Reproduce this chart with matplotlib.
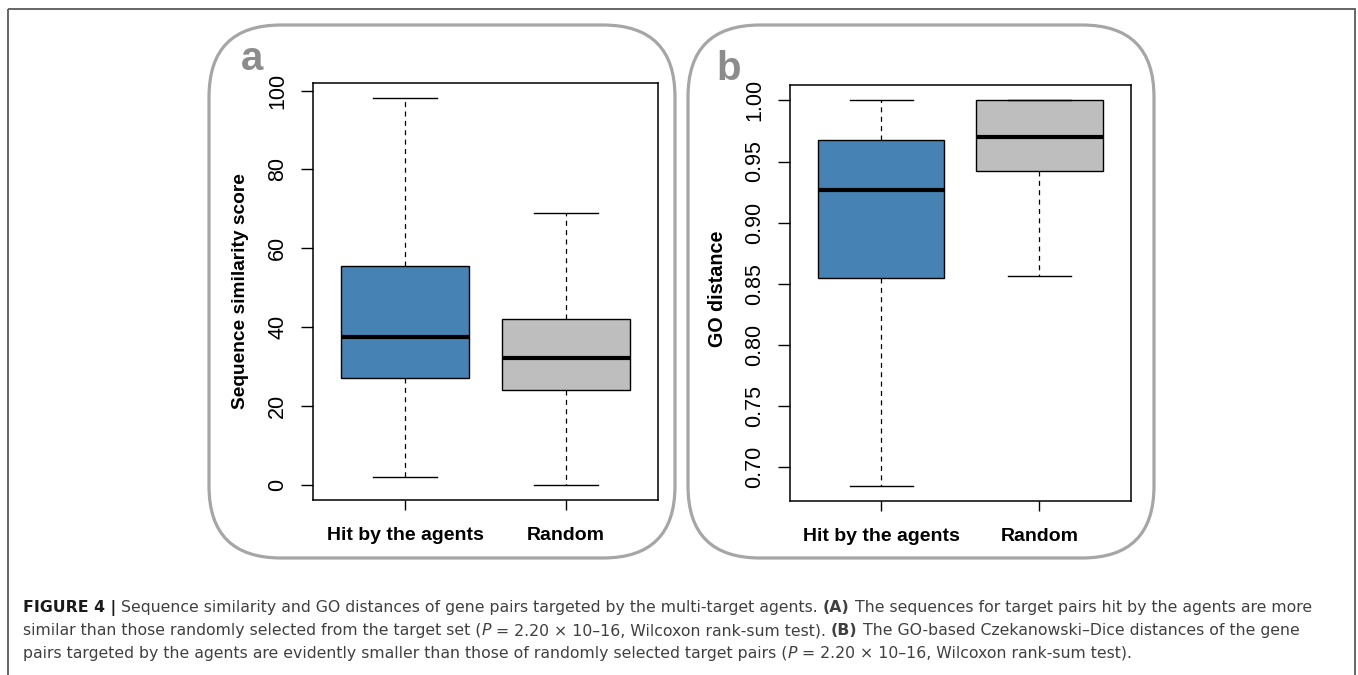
import matplotlib
matplotlib.use("Agg")
import matplotlib.pyplot as plt
from matplotlib.patches import FancyBboxPatch, Rectangle

# ---------------- data ----------------
categories = ["Hit by the agents", "Random"]
box_colors = ["#4682B4", "#BEBEBE"]

# panel a: sequence similarity score
seq_whislo = [2.0, 0.0]
seq_q1 = [27.0, 24.0]
seq_med = [37.5, 32.0]
seq_q3 = [55.5, 42.0]
seq_whishi = [98.0, 69.0]
seq_ticks = [0, 20, 40, 60, 80, 100]
seq_ticklabels = ["0", "20", "40", "60", "80", "100"]

# panel b: GO distance
go_whislo = [0.685, 0.856]
go_q1 = [0.855, 0.942]
go_med = [0.927, 0.970]
go_q3 = [0.968, 1.000]
go_whishi = [1.000, 1.000]
go_ticks = [0.70, 0.75, 0.80, 0.85, 0.90, 0.95, 1.00]
go_ticklabels = ["0.70", "0.75", "0.80", "0.85", "0.90", "0.95", "1.00"]

caption_lines = [
    [("FIGURE 4 |", "bold", "normal"),
     (" Sequence similarity and GO distances of gene pairs targeted by the multi-target agents. ", "normal", "normal"),
     ("(A)", "bold", "normal"),
     (" The sequences for target pairs hit by the agents are more", "normal", "normal")],
    [("similar than those randomly selected from the target set (", "normal", "normal"),
     ("P", "normal", "italic"),
     (" = 2.20 \u00d7 10\u201316, Wilcoxon rank-sum test). ", "normal", "normal"),
     ("(B)", "bold", "normal"),
     (" The GO-based Czekanowski\u2013Dice distances of the gene", "normal", "normal")],
    [("pairs targeted by the agents are evidently smaller than those of randomly selected target pairs (", "normal", "normal"),
     ("P", "normal", "italic"),
     (" = 2.20 \u00d7 10\u201316, Wilcoxon rank-sum test).", "normal", "normal")],
]

# ---------------- figure ----------------
W, H = 1358, 675
plt.rcParams["font.family"] = ["Liberation Sans", "DejaVu Sans"]
fig = plt.figure(figsize=(W / 100, H / 100), dpi=100)
fig.patch.set_facecolor("white")

# background overlay in pixel coordinates
bg = fig.add_axes([0, 0, 1, 1], zorder=0)
bg.set_xlim(0, W)
bg.set_ylim(H, 0)
bg.axis("off")
bg.add_patch(Rectangle((8, 9), 1347, 680, fill=False, edgecolor="#5a5a5a", linewidth=1.3))
for x0 in (209, 688):
    bg.add_patch(FancyBboxPatch((x0, 25), 466, 533,
                                boxstyle="round,pad=0,rounding_size=72",
                                fill=False, edgecolor="#a6a6a6", linewidth=2.3))
bg.text(252, 70, "a", fontsize=29, fontweight="bold", color="#8c8c8c", ha="center", va="baseline")
bg.text(729, 80, "b", fontsize=29, fontweight="bold", color="#8c8c8c", ha="center", va="baseline")


def make_stats(whislo, q1, med, q3, whishi):
    return [dict(whislo=whislo[i], q1=q1[i], med=med[i], q3=q3[i], whishi=whishi[i],
                 label=categories[i]) for i in range(len(categories))]


def draw_panel(rect, stats, ticks, ticklabels, ylabel, ylabel_size):
    ax = fig.add_axes(rect, zorder=1)
    ax.patch.set_alpha(0)
    bp = ax.bxp(stats, positions=[1, 2], widths=0.8, capwidths=0.4, patch_artist=True,
                showfliers=False,
                boxprops=dict(edgecolor="black", linewidth=1.0),
                whiskerprops=dict(color="black", linewidth=0.9, linestyle=(0, (4, 3.5))),
                capprops=dict(color="black", linewidth=1.0),
                medianprops=dict(color="black", linewidth=3.0))
    for patch, c in zip(bp["boxes"], box_colors):
        patch.set_facecolor(c)
    lo = min(s["whislo"] for s in stats)
    hi = max(s["whishi"] for s in stats)
    pad = 0.04 * (hi - lo)
    ax.set_ylim(lo - pad, hi + pad)
    ax.set_xlim(0.5 - 0.08, 2.5 + 0.08)
    ax.set_yticks(ticks)
    ax.set_yticklabels(ticklabels, rotation=90, va="center", fontsize=15.5)
    ax.set_xticks([1, 2])
    ax.set_xticklabels(categories, fontsize=14, fontweight="bold")
    ax.tick_params(axis="y", length=8.5, width=1.0, pad=9)
    ax.tick_params(axis="x", length=7.5, width=1.0, pad=12)
    for sp in ax.spines.values():
        sp.set_linewidth(1.1)
    ax.set_ylabel(ylabel, fontsize=ylabel_size, fontweight="bold")
    ax.yaxis.label.set_va("center")
    ax.yaxis.set_label_coords(-0.2095, 0.5)
    return ax


draw_panel([312.5 / W, 1 - 500 / H, 346 / W, 417 / H],
           make_stats(seq_whislo, seq_q1, seq_med, seq_q3, seq_whishi),
           seq_ticks, seq_ticklabels, "Sequence similarity score", 13.8)
ax_b = draw_panel([789.5 / W, 1 - 501 / H, 341.5 / W, 416 / H],
                  make_stats(go_whislo, go_q1, go_med, go_q3, go_whishi),
                  go_ticks, go_ticklabels, "GO distance", 14.2)
ax_b.yaxis.set_label_coords(-0.2095, 0.51)

# ---------------- caption ----------------
renderer = fig.canvas.get_renderer()
cap_family = ["DejaVu Sans"]


def seg_width(text, weight, style, size):
    t1 = fig.text(0, 0, "|" + text + "|", fontsize=size, fontweight=weight, fontstyle=style,
                  family=cap_family)
    t2 = fig.text(0, 0, "||", fontsize=size, fontweight=weight, fontstyle=style, family=cap_family)
    w = t1.get_window_extent(renderer).width - t2.get_window_extent(renderer).width
    t1.remove()
    t2.remove()
    return w


# fit caption size so that the first line spans the same width as in the figure
ref_size = 10.0
line1_w = sum(seg_width(t, wgt, st, ref_size) for t, wgt, st in caption_lines[0])
cap_size = ref_size * (1315 - 23) / line1_w

baselines = [612, 635, 658]
for line, yb in zip(caption_lines, baselines):
    x = 23
    for text, weight, style in line:
        color = "#1a1a1a" if text.startswith("FIGURE") else "#404040"
        fig.text(x / W, 1 - yb / H, text, fontsize=cap_size, fontweight=weight, fontstyle=style,
                 color=color, ha="left", va="baseline", family=cap_family)
        x += seg_width(text, weight, style, cap_size)

fig.savefig("out.png", dpi=100)
